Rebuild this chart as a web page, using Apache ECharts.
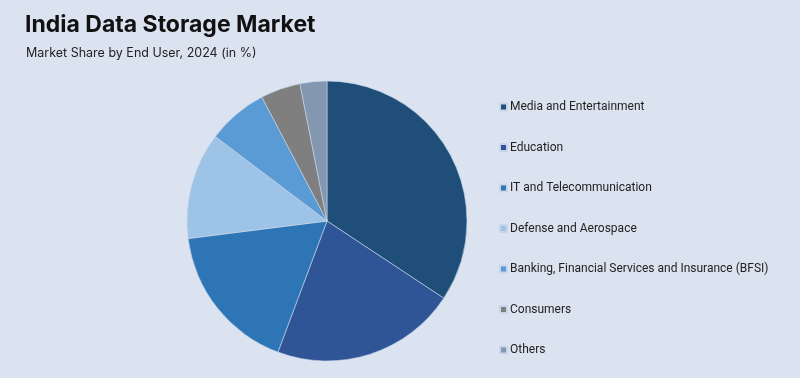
<!DOCTYPE html>
<html><head><meta charset="utf-8">
<script src="https://cdn.jsdelivr.net/npm/echarts@6/dist/echarts.min.js"></script>
<style>html,body{margin:0;padding:0;background:#f3f5fa}#c{width:800px;height:378px}</style>
</head><body><div id="c"></div>
<script>
const categories = ["Media and Entertainment","Education","IT and Telecommunication","Defense and Aerospace","Banking, Financial Services and Insurance (BFSI)","Consumers","Others"];
const values = [34.3, 21.4, 17.3, 12.3, 7.0, 4.6, 3.1];
const colors = ["#1f4e79","#2f5597","#2e75b6","#9dc3e6","#5b9bd5","#7f7f7f","#8497b0"];
const chart = echarts.init(document.getElementById('c'));
chart.setOption({
  backgroundColor: '#dbe3f1',
  animation: false,
  title: [{
    text: 'India Data Storage Market', left: 20, top: 9,
    textStyle: {fontFamily: 'Inter', fontWeight: 'bold', fontSize: 23, color: '#111'}
  },{
    text: 'Market Share by End User, 2024 (in %)', left: 21, top: 42,
    textStyle: {fontFamily: 'Inter', fontWeight: 'normal', fontSize: 12.5, color: '#222'}
  }],
  legend: {
    orient: 'vertical', left: 494, top: 96, itemGap: 28.5,
    itemWidth: 7, itemHeight: 7, icon: 'rect',
    textStyle: {fontFamily: 'Roboto', fontSize: 12, color: '#222', padding: [0,0,0,-2]},
    data: categories
  },
  series: [{
    type: 'pie', center: [327, 221], radius: 140, clockwise: true, startAngle: 90,
    label: {show: false}, labelLine: {show: false},
    itemStyle: {borderColor: '#c9d6ea', borderWidth: 0.6},
    data: categories.map((n,i)=>({name:n, value: values[i], itemStyle:{color: colors[i]}}))
  }]
});
</script></body></html>
